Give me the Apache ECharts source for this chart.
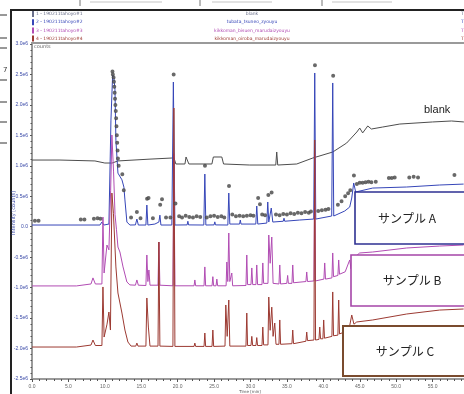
<!DOCTYPE html>
<html>
<head>
<meta charset="utf-8">
<script src="https://cdn.jsdelivr.net/npm/echarts@6/dist/echarts.min.js"></script>
<style>
  html, body { margin: 0; padding: 0; background: #fff; }
  #main { width: 464px; height: 394px; }
</style>
</head>
<body>
<div id="main"></div>
<script>
// [retention time (min), intensity (x10^6 counts, offset as plotted)]
var blankTrace = [[0,1.095],[3.84,1.095],[8.64,1.08],[10.0,1.046],[11.0,1.046],[11.8,1.08],[16.2,1.11],[19.2,1.128],[19.5,1.128],[19.75,1.03],[21.0,1.03],[21.15,1.145],[21.35,1.145],[21.54,1.03],[24.7,1.03],[24.9,1.145],[26.06,1.145],[26.3,1.03],[29.9,1.013],[33.47,1.013],[33.6,1.227],[33.74,1.013],[36.35,1.03],[38.55,1.128],[41.3,1.227],[43.2,1.374],[44.6,1.555],[45.0,1.62],[45.4,1.54],[46.1,1.654],[46.6,1.604],[48.15,1.637],[50.5,1.686],[55.0,1.72],[57.6,1.736],[59.3,1.72]];

var sampleA = [[0,0.028],[9.33,0.028],[9.6,0.077],[9.87,0.028],[10.56,0.044],[10.84,1.75],[11.07,2.49],[11.25,2.44],[11.39,2.25],[11.52,1.42],[11.8,0.88],[12.35,0.77],[12.62,0.65],[12.76,0.44],[13.03,0.077],[13.44,0.028],[14.2,0.03],[14.4,0.126],[14.6,0.028],[15.64,0.028],[15.77,0.356],[15.91,0.028],[16.87,0.044],[17.42,0.077],[17.56,0.19],[17.7,0.028],[19.2,0.028],[19.41,2.376],[19.62,0.028],[21.3,0.03],[21.4,0.09],[21.5,0.03],[23.59,0.028],[23.73,0.865],[23.87,0.028],[25.0,0.03],[25.1,0.08],[25.2,0.03],[26.89,0.028],[27.02,0.553],[27.16,0.044],[28.5,0.044],[28.6,0.11],[28.7,0.044],[30.73,0.044],[30.86,0.34],[31.0,0.044],[32.24,0.06],[32.37,0.406],[32.51,0.077],[32.7,0.08],[32.85,0.307],[33.06,0.077],[34.5,0.09],[34.6,0.14],[34.7,0.09],[36.76,0.11],[38.68,0.126],[38.82,2.524],[38.96,0.126],[41.15,0.176],[41.29,2.36],[41.43,0.176],[42.94,0.258],[43.62,0.323],[43.9,0.471],[44.17,0.718],[44.44,0.57],[46.78,0.635],[51.44,0.652],[55.97,0.685],[59.26,0.70]];

var sampleB = [[0,-0.972],[6.1,-0.972],[6.17,-0.94],[8.1,-0.94],[8.37,-0.84],[8.7,-0.94],[9.6,-0.94],[9.74,0.159],[9.9,-0.76],[10.01,-0.76],[10.29,-0.30],[10.56,-0.38],[10.8,0.6],[10.97,1.506],[11.2,0.9],[11.4,0.2],[11.6,-0.05],[11.8,-0.333],[12.07,-0.415],[12.5,-0.66],[13.03,-0.907],[13.44,-0.955],[14.2,-0.96],[14.4,-0.874],[14.6,-0.96],[15.64,-0.965],[15.77,-0.464],[15.91,-0.9],[16.05,-0.71],[16.2,-0.96],[17.3,-0.96],[17.42,-0.251],[17.56,-0.96],[19.35,-0.97],[19.48,1.2],[19.62,-0.97],[22.25,-0.97],[22.36,-0.874],[22.47,-0.97],[23.62,-0.97],[23.73,-0.66],[23.84,-0.97],[24.72,-0.97],[24.83,-0.82],[24.94,-0.97],[25.27,-0.97],[25.38,-0.86],[25.49,-0.97],[26.65,-0.97],[26.75,-0.579],[26.88,-0.9],[27.02,-0.103],[27.16,-0.9],[27.43,-0.76],[27.55,-0.97],[29.38,-0.965],[29.49,-0.464],[29.6,-0.95],[30.07,-0.95],[30.18,-0.677],[30.3,-0.95],[30.75,-0.95],[30.86,-0.628],[30.97,-0.95],[31.58,-0.95],[31.69,-0.595],[31.8,-0.93],[32.4,-0.93],[32.51,-0.136],[32.7,-0.6],[32.92,-0.169],[33.1,-0.93],[33.91,-0.94],[34.02,-0.628],[34.13,-0.94],[34.98,-0.93],[35.1,-0.8],[35.2,-0.93],[35.69,-0.93],[35.8,-0.628],[35.91,-0.92],[37.61,-0.9],[37.72,-0.743],[37.83,-0.9],[38.71,-0.89],[38.82,1.2],[38.93,-0.89],[40.08,-0.86],[40.19,-0.595],[40.3,-0.86],[41.18,-0.84],[41.29,-0.431],[41.4,-0.82],[42.0,-0.8],[42.11,-0.546],[42.22,-0.78],[43.0,-0.74],[43.62,-0.546],[43.8,-0.69],[44.03,-0.464],[44.3,-0.5],[44.99,-0.431],[46.78,-0.415],[51.44,-0.349],[55.97,-0.317],[59.26,-0.30]];

var sampleC = [[0,-1.975],[6.1,-1.975],[6.17,-1.943],[8.1,-1.943],[8.37,-1.86],[8.7,-1.95],[9.6,-1.95],[9.74,-0.989],[9.9,-1.811],[10.01,-1.811],[10.3,-1.6],[10.56,-1.40],[10.77,-1.696],[10.97,0.553],[11.18,0.22],[11.52,-0.66],[11.8,-1.088],[12.35,-1.417],[12.76,-1.696],[13.17,-1.893],[13.6,-1.96],[14.25,-1.96],[14.4,-1.91],[14.55,-1.96],[15.64,-1.96],[15.77,-1.17],[15.98,-1.647],[16.2,-1.96],[17.3,-1.96],[17.42,-0.251],[17.56,-1.96],[19.35,-1.965],[19.48,1.949],[19.62,-1.965],[22.25,-1.965],[22.36,-1.91],[22.47,-1.965],[23.62,-1.965],[23.73,-1.745],[23.84,-1.965],[24.72,-1.965],[24.83,-1.696],[24.94,-1.965],[26.5,-1.96],[26.61,-1.285],[26.8,-1.8],[27.02,-1.203],[27.16,-1.96],[29.38,-1.96],[29.49,-1.417],[29.6,-1.95],[30.07,-1.95],[30.18,-1.8],[30.3,-1.95],[30.75,-1.95],[30.86,-1.82],[30.97,-1.95],[31.58,-1.95],[31.69,-1.647],[31.8,-1.94],[32.4,-1.94],[32.51,-1.154],[32.7,-1.7],[32.92,-1.32],[33.1,-1.8],[33.33,-1.581],[33.5,-1.93],[33.91,-1.93],[34.02,-1.531],[34.13,-1.93],[35.69,-1.92],[35.8,-1.696],[35.91,-1.92],[37.61,-1.88],[37.72,-1.729],[37.83,-1.87],[38.71,-1.86],[38.82,1.424],[38.93,-1.86],[39.4,-1.85],[39.51,-1.647],[39.62,-1.84],[39.94,-1.84],[40.05,-1.531],[40.16,-1.83],[41.18,-1.8],[41.29,-1.071],[41.4,-1.79],[42.0,-1.78],[42.11,-1.203],[42.22,-1.76],[43.5,-1.7],[43.9,-1.449],[44.2,-1.6],[44.58,-1.564],[46.78,-1.531],[51.44,-1.433],[55.97,-1.368],[59.26,-1.351]];

// peak-annotation marks drawn by the software above sample A
var peakMarks = [[11.05,2.55],[11.1,2.5],[11.2,2.45],[11.25,2.38],[11.3,2.3],[11.35,2.2],[11.4,2.1],[11.45,2.0],[11.5,1.9],[11.55,1.78],[11.6,1.65],[11.65,1.5],[11.7,1.38],[11.75,1.25],[11.8,1.12],[11.9,1.0],[12.4,0.86],[12.6,0.6],[14.4,0.24],[15.8,0.46],[16.0,0.47],[17.6,0.36],[17.85,0.45],[19.45,2.5],[19.7,0.38],[23.75,1.0],[27.05,0.67],[31.05,0.47],[31.3,0.37],[32.45,0.52],[32.9,0.56],[38.85,2.65],[41.35,2.48],[44.2,0.84],[0.4,0.1],[0.9,0.1],[6.7,0.12],[7.2,0.12],[8.5,0.13],[9.0,0.14],[9.4,0.13],[13.6,0.15],[14.9,0.14],[16.6,0.14],[18.4,0.15],[19.0,0.15],[20.2,0.17],[20.6,0.15],[21.1,0.18],[21.6,0.16],[22.1,0.15],[22.6,0.17],[23.1,0.16],[24.0,0.15],[24.5,0.17],[25.0,0.18],[25.5,0.16],[26.0,0.17],[26.4,0.15],[27.5,0.2],[28.0,0.17],[28.5,0.18],[29.0,0.17],[29.5,0.18],[30.0,0.19],[30.4,0.18],[31.6,0.2],[32.0,0.19],[33.5,0.2],[34.0,0.19],[34.5,0.21],[35.0,0.2],[35.5,0.22],[36.0,0.21],[36.5,0.23],[37.0,0.22],[37.5,0.24],[38.0,0.23],[38.3,0.25],[39.3,0.26],[39.8,0.27],[40.3,0.28],[40.7,0.29],[42.0,0.36],[42.5,0.42],[43.0,0.5],[43.4,0.55],[43.7,0.6],[44.6,0.7],[45.0,0.72],[45.4,0.72],[45.8,0.73],[46.2,0.74],[46.6,0.73],[47.2,0.74],[49.0,0.8],[49.4,0.8],[49.8,0.81],[51.8,0.81],[52.4,0.82],[53.0,0.81],[58.0,0.85]];

var traceNames = ['blank', 'サンプル A', 'サンプル B', 'サンプル C'];
var traceColors = ['#4d4d4d', '#3646b8', '#b14cb3', '#9c3a32'];
var fileRows = ['1 - 190211tahoyo#1', '2 - 190211tahoyo#2', '3 - 190211tahoyo#3', '4 - 190211tahoyo#4'];
var sampleRows = ['blank', 'tubata_tsuneo_zyouyu', 'kikkoman_bisuen_marudaizyouyu', 'kikkoman_oiroba_marudaizyouyu'];

var chart = echarts.init(document.getElementById('main'));

function trace(i, data) {
  return {
    name: traceNames[i], type: 'line', data: data,
    showSymbol: false, symbol: 'none', animation: false,
    lineStyle: { width: 1, color: traceColors[i] },
    itemStyle: { color: traceColors[i] }, z: 2 + i
  };
}

var graphics = [
  // outer frame of the print-out
  { type: 'line', shape: { x1: 10, y1: 10, x2: 464, y2: 10 }, style: { stroke: '#222', lineWidth: 2 } },
  { type: 'line', shape: { x1: 11, y1: 10, x2: 11, y2: 394 }, style: { stroke: '#222', lineWidth: 2 } },
  { type: 'line', shape: { x1: 31, y1: 43, x2: 464, y2: 43 }, style: { stroke: '#9a9a9a', lineWidth: 2 } },
  // cut-off table at the very top
  { type: 'line', shape: { x1: 80, y1: 0, x2: 80, y2: 6 }, style: { stroke: '#777', lineWidth: 1 } },
  { type: 'line', shape: { x1: 200, y1: 0, x2: 200, y2: 6 }, style: { stroke: '#777', lineWidth: 1 } },
  { type: 'line', shape: { x1: 322, y1: 0, x2: 322, y2: 6 }, style: { stroke: '#777', lineWidth: 1 } },
  { type: 'rect', shape: { x: 90, y: 1, width: 72, height: 2 }, style: { fill: '#e2e2e2' } },
  { type: 'rect', shape: { x: 212, y: 1, width: 60, height: 2 }, style: { fill: '#e2e2e2' } },
  { type: 'rect', shape: { x: 332, y: 1, width: 60, height: 2 }, style: { fill: '#e2e2e2' } },
  // "counts" and axis titles
  { type: 'text', x: 34, y: 47, style: { text: 'counts', font: '5px "DejaVu Sans"', fill: '#666', textVerticalAlign: 'middle' } },
  { type: 'text', x: 14, y: 213, rotation: Math.PI / 2, style: { text: 'Intensity [counts]', font: '5px "DejaVu Sans"', fill: '#3a4aa8', textAlign: 'center', textVerticalAlign: 'middle' } },
  { type: 'text', x: 250, y: 392, style: { text: 'Time [min]', font: '4px "DejaVu Sans"', fill: '#555', textAlign: 'center', textVerticalAlign: 'middle' } },
  // blank label
  { type: 'text', x: 424, y: 110, style: { text: 'blank', font: '11px "Liberation Sans"', fill: '#222', textVerticalAlign: 'middle' } },
  // sample boxes
  { type: 'rect', z: 100, shape: { x: 355, y: 192, width: 130, height: 52 }, style: { fill: '#fff', stroke: '#2e3192', lineWidth: 1.6 } },
  { type: 'rect', z: 100, shape: { x: 351, y: 255, width: 130, height: 51 }, style: { fill: '#fff', stroke: '#a545a8', lineWidth: 1.6 } },
  { type: 'rect', z: 100, shape: { x: 343, y: 326, width: 140, height: 50 }, style: { fill: '#fff', stroke: '#7a4b2e', lineWidth: 2 } },
  { type: 'text', z: 101, x: 407, y: 218, style: { text: traceNames[1], font: '12px "Noto Sans CJK JP"', fill: '#222', textAlign: 'center', textVerticalAlign: 'middle' } },
  { type: 'text', z: 101, x: 412, y: 280, style: { text: traceNames[2], font: '12px "Noto Sans CJK JP"', fill: '#222', textAlign: 'center', textVerticalAlign: 'middle' } },
  { type: 'text', z: 101, x: 405, y: 351, style: { text: traceNames[3], font: '12px "Noto Sans CJK JP"', fill: '#222', textAlign: 'center', textVerticalAlign: 'middle' } },
  { type: 'text', x: 3, y: 70, style: { text: '7', font: '7px "DejaVu Sans"', fill: '#333', textVerticalAlign: 'middle' } }
];

// dashes of the neighbouring table at the left edge
[15, 38, 48, 80, 102, 122, 143].forEach(function (y) {
  graphics.push({ type: 'line', shape: { x1: 0, y1: y, x2: 7, y2: y }, style: { stroke: '#333', lineWidth: 1 } });
});

// file legend rows
fileRows.forEach(function (t, i) {
  var y = 14 + i * 8.2;
  var c = i === 0 ? '#6a6f8a' : traceColors[i];
  graphics.push({ type: 'rect', shape: { x: 32, y: y - 3, width: 2, height: 6 }, style: { fill: c } });
  graphics.push({ type: 'text', x: 36, y: y, style: { text: t, font: '4.5px "DejaVu Sans"', fill: c, textVerticalAlign: 'middle' } });
  graphics.push({ type: 'text', x: 252, y: y, style: { text: sampleRows[i], font: '4.5px "DejaVu Sans"', fill: c, textAlign: 'center', textVerticalAlign: 'middle' } });
  graphics.push({ type: 'text', x: 461, y: y, style: { text: 'T', font: '4.5px "DejaVu Sans"', fill: c, textVerticalAlign: 'middle' } });
});

var option = {
  backgroundColor: '#fff',
  animation: false,
  grid: { left: 32, top: 44, width: 437, height: 335, containLabel: false, outerBoundsMode: 'none' },
  xAxis: {
    type: 'value', min: 0, max: 60, interval: 5,
    axisLine: { onZero: false, lineStyle: { color: '#9a9a9a', width: 2 } },
    axisTick: { length: 3, lineStyle: { color: '#555' } },
    minorTick: { show: true, splitNumber: 5, length: 2, lineStyle: { color: '#555' } },
    axisLabel: { fontSize: 5, color: '#666', margin: 5, formatter: function (v) { return v.toFixed(1); } },
    splitLine: { show: false }
  },
  yAxis: {
    type: 'value', min: -2.5, max: 3.0, interval: 0.5,
    axisLine: { show: true, onZero: false, lineStyle: { color: '#9a9a9a', width: 2 } },
    axisTick: { length: 2, lineStyle: { color: '#555' } },
    minorTick: { show: true, splitNumber: 5, length: 1.5, lineStyle: { color: '#555' } },
    axisLabel: { fontSize: 5, color: '#3a4aa8', margin: 4, formatter: function (v) { return v === 0 ? '0.0' : v.toFixed(1) + 'e6'; } },
    splitLine: { show: false }
  },
  series: [
    trace(0, blankTrace),
    trace(1, sampleA),
    trace(2, sampleB),
    trace(3, sampleC),
    {
      name: 'peaks', type: 'scatter', data: peakMarks, symbol: 'emptyCircle', symbolSize: 2,
      itemStyle: { color: '#444', borderColor: '#444', borderWidth: 0.7 }, z: 10, animation: false
    }
  ],
  graphic: graphics
};

chart.setOption(option);
</script>
</body>
</html>
